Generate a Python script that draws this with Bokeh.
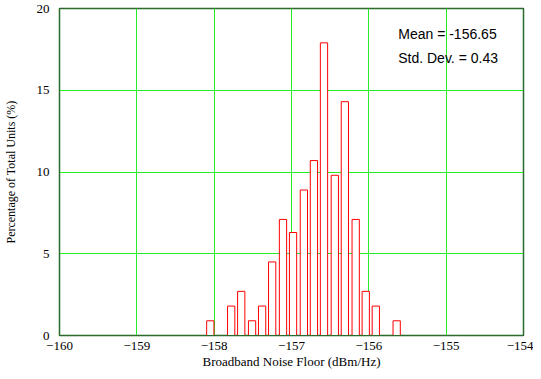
from bokeh.plotting import figure
from bokeh.models import Range1d, FixedTicker, ColumnDataSource, Label
from bokeh.embed import file_html
from bokeh.resources import INLINE

# Histogram data
bin_centers = [-158.05, -157.78, -157.65, -157.51, -157.38, -157.25, -157.11, -156.98,
               -156.84, -156.71, -156.58, -156.44, -156.31, -156.17, -156.04, -155.91, -155.64]
percentages = [0.9, 1.8, 2.7, 0.9, 1.8, 4.5, 7.1, 6.3,
               8.9, 10.7, 17.9, 9.8, 14.3, 7.1, 2.7, 1.8, 0.9]
x_ticks = [-160, -159, -158, -157, -156, -155, -154]
y_ticks = [0, 5, 10, 15, 20]
stats_text = ["Mean = -156.65", "Std. Dev. = 0.43"]

p = figure(width=533, height=371, output_backend="svg", toolbar_location=None,
           x_range=Range1d(-160, -154), y_range=Range1d(0, 20),
           min_border_left=56, min_border_right=10, min_border_top=8, min_border_bottom=34)

src = ColumnDataSource(dict(x=bin_centers, top=percentages))
p.vbar(x="x", top="top", bottom=0, width=0.094, source=src,
       fill_color="white", line_color="#ff0000", line_width=1)

serif = "Liberation Serif"
p.xaxis.ticker = FixedTicker(ticks=x_ticks)
p.yaxis.ticker = FixedTicker(ticks=y_ticks)
p.xaxis.major_label_overrides = {t: str(t).replace("-", "\u2212") for t in x_ticks}
for ax in (p.xaxis, p.yaxis):
    ax.major_tick_line_color = None
    ax.minor_tick_line_color = None
    ax.axis_line_color = "#2a6a2a"
    ax.axis_line_width = 1
    ax.major_label_text_font = serif
    ax.major_label_text_font_size = "13px"
    ax.major_label_text_color = "black"
    ax.axis_label_text_font = serif
    ax.axis_label_text_font_style = "normal"
    ax.axis_label_text_color = "black"
p.xaxis.axis_label = "Broadband Noise Floor (dBm/Hz)"
p.yaxis.axis_label = "Percentage of Total Units (%)"
p.xaxis.axis_label_text_font_size = "13px"
p.yaxis.axis_label_text_font_size = "12px"
p.xaxis.axis_label_standoff = 1
p.yaxis.axis_label_standoff = 16
p.xaxis.major_label_standoff = 0
p.yaxis.major_label_standoff = 4

p.xgrid.grid_line_color = "#22ee22"
p.ygrid.grid_line_color = "#22ee22"
p.xgrid.grid_line_width = 1
p.ygrid.grid_line_width = 1
p.outline_line_color = "#2a6a2a"
p.outline_line_width = 1.5
p.background_fill_color = "white"
p.border_fill_color = "white"

p.add_layout(Label(x=-155.62, y=18.45, text=stats_text[0], text_font="Liberation Sans",
                   text_font_size="14px", text_baseline="middle", text_color="black"))
p.add_layout(Label(x=-155.62, y=17.0, text=stats_text[1], text_font="Liberation Sans",
                   text_font_size="14px", text_baseline="middle", text_color="black"))

open("out.html", "w").write(file_html(p, INLINE))
